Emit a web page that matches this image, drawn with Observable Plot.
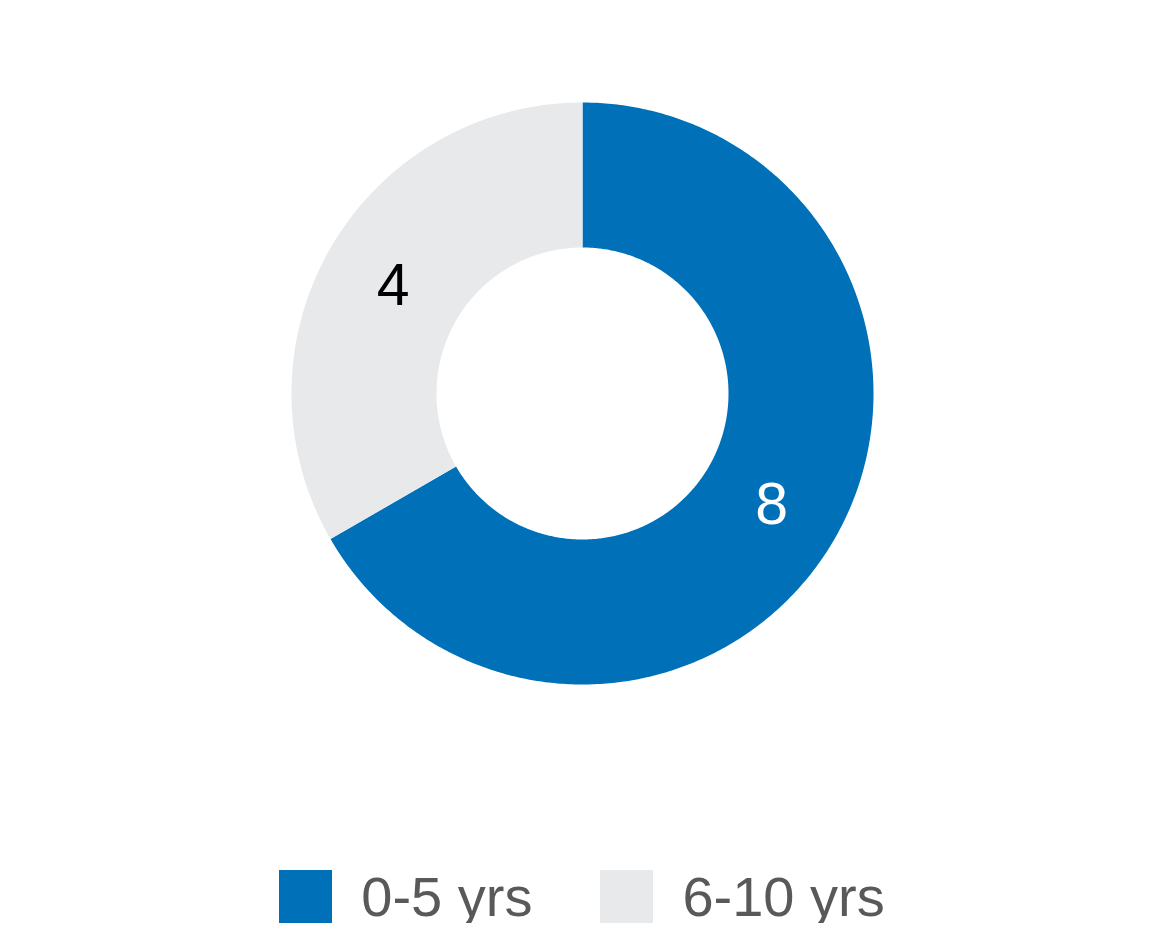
<!DOCTYPE html>
<html>
<head>
<meta charset="utf-8">
<script src="https://cdn.jsdelivr.net/npm/d3@7"></script>
<script src="https://cdn.jsdelivr.net/npm/@observablehq/plot@0.6"></script>
<style>
  html, body { margin: 0; padding: 0; background: #fff; }
  body { width: 1164px; font-family: "Liberation Sans", Arial, sans-serif; }
  #legend { display: flex; justify-content: center; align-items: center; margin-top: 20px; height: 53px; }
  .item { display: flex; align-items: center; }
  .sw { width: 53px; height: 53px; margin-right: 29px; }
  .lab { font-size: 56px; line-height: 53px; color: #595959; }
  .item + .item { margin-left: 68px; }
</style>
</head>
<body>
<div id="chart"></div>
<div id="legend"></div>
<script>
const categories = ["0-5 yrs", "6-10 yrs"];
const values = [8, 4];
const colors = ["#0070b9", "#e8e9eb"];
const labelColors = ["#ffffff", "#000000"];

const W = 1164, H = 850, CX = 582, CY = 393;
const R_OUT = 291, R_IN = 146;

const pie = d3.pie().sort(null).value((d) => d.value);
const arcs = pie(categories.map((c, i) => ({ key: c, value: values[i], i })));

const pts = [];
for (const a of arcs) {
  const n = Math.max(2, Math.ceil((a.endAngle - a.startAngle) / 0.01));
  for (let k = 0; k <= n; k++) {
    const t = a.startAngle + (a.endAngle - a.startAngle) * k / n;
    pts.push({ key: a.data.key, x: R_OUT * Math.sin(t), y: -R_OUT * Math.cos(t) });
  }
  for (let k = n; k >= 0; k--) {
    const t = a.startAngle + (a.endAngle - a.startAngle) * k / n;
    pts.push({ key: a.data.key, x: R_IN * Math.sin(t), y: -R_IN * Math.cos(t) });
  }
}

const rMid = (R_OUT + R_IN) / 2;
const labels = arcs.map((a) => {
  const m = (a.startAngle + a.endAngle) / 2;
  return { key: a.data.key, value: a.data.value, x: rMid * Math.sin(m), y: -rMid * Math.cos(m), color: labelColors[a.data.i] };
});

const chart = Plot.plot({
  width: W,
  height: H,
  margin: 0,
  x: { domain: [-CX, W - CX], range: [0, W], axis: null },
  y: { domain: [-CY, H - CY], range: [0, H], axis: null },
  color: { domain: categories, range: colors },
  style: { fontFamily: '"Liberation Sans", Arial, sans-serif', background: "#fff" },
  marks: [
    Plot.line(pts, { x: "x", y: "y", z: "key", fill: "key", stroke: null, curve: "linear" }),
    Plot.text(labels, { x: "x", y: "y", text: (d) => String(d.value), fill: "color", fontSize: 59, textAnchor: "middle", dy: 2 })
  ]
});
document.getElementById("chart").appendChild(chart);

const legend = document.getElementById("legend");
categories.forEach((c, i) => {
  const item = document.createElement("div");
  item.className = "item";
  const sw = document.createElement("div");
  sw.className = "sw";
  sw.style.background = colors[i];
  const lab = document.createElement("span");
  lab.className = "lab";
  lab.textContent = c;
  item.appendChild(sw);
  item.appendChild(lab);
  legend.appendChild(item);
});
</script>
</body>
</html>
